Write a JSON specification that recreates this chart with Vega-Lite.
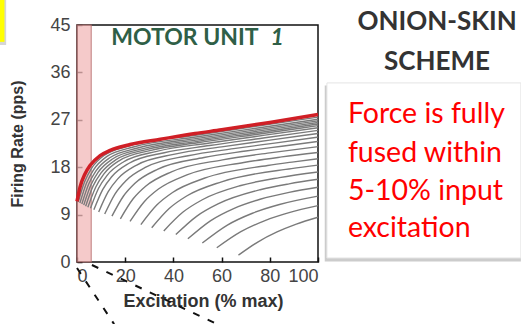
{
  "$schema": "https://vega.github.io/schema/vega-lite/v6.json",
  "width": 241,
  "height": 237,
  "autosize": "none",
  "padding": {"left": 77, "top": 25, "right": 203, "bottom": 62},
  "background": "white",
  "config": {"view": {"stroke": "#111", "strokeWidth": 1.5}, "font": "Liberation Sans"},
  "datasets": {
    "gray": [
      {"s":1,"x":0.5,"y":11.4},{"s":1,"x":3.2,"y":15.27},{"s":1,"x":5.9,"y":17.69},{"s":1,"x":11.2,"y":20.23},{"s":1,"x":21.9,"y":22.05},{"s":1,"x":50,"y":24.12},{"s":1,"x":75,"y":25.81},{"s":1,"x":100,"y":27.5},
      {"s":2,"x":1.2,"y":11.2},{"s":2,"x":4.0,"y":15.05},{"s":2,"x":6.8,"y":17.46},{"s":2,"x":12.3,"y":20.0},{"s":2,"x":23.4,"y":21.83},{"s":2,"x":50,"y":23.77},{"s":2,"x":75,"y":25.44},{"s":2,"x":100,"y":27.1},
      {"s":3,"x":2.0,"y":11.0},{"s":3,"x":4.9,"y":14.84},{"s":3,"x":7.8,"y":17.25},{"s":3,"x":13.6,"y":19.79},{"s":3,"x":25.2,"y":21.65},{"s":3,"x":50,"y":23.47},{"s":3,"x":75,"y":25.13},{"s":3,"x":100,"y":26.8},
      {"s":4,"x":2.8,"y":10.8},{"s":4,"x":5.8,"y":14.65},{"s":4,"x":8.8,"y":17.05},{"s":4,"x":14.9,"y":19.61},{"s":4,"x":27.0,"y":21.49},{"s":4,"x":50,"y":23.19},{"s":4,"x":75,"y":24.84},{"s":4,"x":100,"y":26.5},
      {"s":5,"x":3.6,"y":10.6},{"s":5,"x":6.7,"y":14.45},{"s":5,"x":9.9,"y":16.86},{"s":5,"x":16.2,"y":19.43},{"s":5,"x":28.7,"y":21.34},{"s":5,"x":50,"y":22.91},{"s":5,"x":75,"y":24.55},{"s":5,"x":100,"y":26.2},
      {"s":6,"x":4.5,"y":10.4},{"s":6,"x":7.8,"y":14.25},{"s":6,"x":11.1,"y":16.68},{"s":6,"x":17.6,"y":19.26},{"s":6,"x":30.7,"y":21.2},{"s":6,"x":50,"y":22.63},{"s":6,"x":75,"y":24.26},{"s":6,"x":100,"y":25.9},
      {"s":7,"x":5.6,"y":10.2},{"s":7,"x":9.0,"y":14.04},{"s":7,"x":12.5,"y":16.46},{"s":7,"x":19.4,"y":19.04},{"s":7,"x":33.1,"y":21.01},{"s":7,"x":55,"y":22.59},{"s":7,"x":78,"y":24.08},{"s":7,"x":100,"y":25.5},
      {"s":8,"x":7.0,"y":9.9},{"s":8,"x":10.65,"y":13.73},{"s":8,"x":14.3,"y":16.15},{"s":8,"x":21.6,"y":18.75},{"s":8,"x":36.2,"y":20.75},{"s":8,"x":55,"y":22.12},{"s":8,"x":78,"y":23.59},{"s":8,"x":100,"y":25.0},
      {"s":9,"x":9,"y":9.5},{"s":9,"x":12.95,"y":13.35},{"s":9,"x":16.9,"y":15.78},{"s":9,"x":24.8,"y":18.41},{"s":9,"x":40.6,"y":20.48},{"s":9,"x":60,"y":21.87},{"s":9,"x":80,"y":23.14},{"s":9,"x":100,"y":24.4},
      {"s":10,"x":11.5,"y":9.1},{"s":10,"x":15.8,"y":12.95},{"s":10,"x":20.2,"y":15.39},{"s":10,"x":28.8,"y":18.04},{"s":10,"x":46.1,"y":20.18},{"s":10,"x":65,"y":21.52},{"s":10,"x":82,"y":22.58},{"s":10,"x":100,"y":23.7},
      {"s":11,"x":14.5,"y":8.7},{"s":11,"x":19.3,"y":12.53},{"s":11,"x":24.05,"y":14.96},{"s":11,"x":33.6,"y":17.64},{"s":11,"x":52.7,"y":19.85},{"s":11,"x":70,"y":21.07},{"s":11,"x":85,"y":21.99},{"s":11,"x":100,"y":22.9},
      {"s":12,"x":18,"y":8.2},{"s":12,"x":23.3,"y":12.0},{"s":12,"x":28.6,"y":14.43},{"s":12,"x":39.2,"y":17.12},{"s":12,"x":60.4,"y":19.4},{"s":12,"x":80,"y":20.72},{"s":12,"x":100,"y":21.9},
      {"s":13,"x":22,"y":7.7},{"s":13,"x":27.9,"y":11.45},{"s":13,"x":33.8,"y":13.85},{"s":13,"x":45.6,"y":16.54},{"s":13,"x":69.2,"y":18.89},{"s":13,"x":85,"y":19.95},{"s":13,"x":100,"y":20.8},
      {"s":14,"x":26.5,"y":7.1},{"s":14,"x":33.1,"y":10.81},{"s":14,"x":39.65,"y":13.2},{"s":14,"x":52.8,"y":15.9},{"s":14,"x":79.1,"y":18.33},{"s":14,"x":90,"y":19.02},{"s":14,"x":100,"y":19.6},
      {"s":15,"x":31,"y":6.5},{"s":15,"x":38.25,"y":10.16},{"s":15,"x":45.5,"y":12.53},{"s":15,"x":60,"y":15.23},{"s":15,"x":89,"y":17.74},{"s":15,"x":100,"y":18.4},
      {"s":16,"x":36,"y":5.9},{"s":16,"x":44,"y":9.48},{"s":16,"x":52,"y":11.82},{"s":16,"x":68,"y":14.52},{"s":16,"x":84,"y":16.03},{"s":16,"x":100,"y":17.1},
      {"s":17,"x":41,"y":5.2},{"s":17,"x":49.75,"y":8.72},{"s":17,"x":58.5,"y":11.03},{"s":17,"x":76,"y":13.72},{"s":17,"x":88,"y":14.84},{"s":17,"x":100,"y":15.7},
      {"s":18,"x":46,"y":4.4},{"s":18,"x":55.5,"y":7.87},{"s":18,"x":65,"y":10.15},{"s":18,"x":76,"y":11.92},{"s":18,"x":88,"y":13.23},{"s":18,"x":100,"y":14.2},
      {"s":19,"x":52,"y":3.6},{"s":19,"x":62.4,"y":7.01},{"s":19,"x":72.8,"y":9.26},{"s":19,"x":84,"y":10.91},{"s":19,"x":100,"y":12.5},
      {"s":20,"x":58,"y":2.7},{"s":20,"x":68,"y":5.75},{"s":20,"x":78,"y":7.87},{"s":20,"x":88,"y":9.38},{"s":20,"x":100,"y":10.7},
      {"s":21,"x":67,"y":1.3},{"s":21,"x":75,"y":3.79},{"s":21,"x":83,"y":5.7},{"s":21,"x":91,"y":7.19},{"s":21,"x":100,"y":8.5}
    ],
    "red": [
      {"x":0,"y":11.5},{"x":1.25,"y":14.2},{"x":3.3,"y":16.7},{"x":5.4,"y":18.3},{"x":9.6,"y":20.2},{"x":13.75,"y":21.2},{"x":22,"y":22.3},{"x":34.6,"y":23.3},{"x":49,"y":24.4},{"x":60,"y":25.1},{"x":80,"y":26.5},{"x":100,"y":28.0}
    ],
    "band": [{"x":0,"x2":5.9,"y":0,"y2":45}],
    "boxShadow": [{"x":102.8,"x2":184.2,"y":33.5,"y2":0.1}],
    "box": [{"x":103.7,"x2":184.2,"y":34.0,"y2":0.76}],
    "yellowShadow": [{"x":-32,"x2":-29.4,"y":49.9,"y2":41.2}],
    "yellow": [{"x":-32,"x2":-30.1,"y":49.9,"y2":41.8}],
    "dash": [{"x":0,"y":-1.14,"x2":15.4,"y2":-11.8},{"x":6.2,"y":-0.57,"x2":58.1,"y2":-11.8}],
    "motor": [{"x":14.2,"y":42.6,"t":"MOTOR UNIT"}],
    "one": [{"x":80.3,"y":42.6,"t":"1"}],
    "onion": [{"x":149.4,"y":45.6,"t":"ONION-SKIN"},{"x":149.4,"y":38.0,"t":"SCHEME"}],
    "note": [{"x":112.4,"y":26.4,"t":"Force is fully"},{"x":112.4,"y":19.0,"t":"fused within"},{"x":112.4,"y":11.8,"t":"5-10% input"},{"x":112.4,"y":4.75,"t":"excitation"}]
  },
  "encoding": {
    "x": {"field": "x", "type": "quantitative",
      "scale": {"domain": [0, 100], "nice": false, "zero": false},
      "axis": {"title": "Excitation (% max)", "values": [0,20,40,60,80,100], "grid": false, "domain": false,
        "tickSize": -5, "tickColor": "#111", "tickWidth": 1.5, "labelPadding": 10, "labelFontSize": 18, "labelColor": "#444",
        "labelFont": "Liberation Sans", "titleFont": "Liberation Sans", "titleFontSize": 18, "titleFontWeight": "bold", "titleColor": "#333", "titlePadding": 7, "titleX": 126}},
    "y": {"field": "y", "type": "quantitative",
      "scale": {"domain": [0, 45], "nice": false, "zero": false},
      "axis": {"title": "Firing Rate (pps)", "values": [0,9,18,27,36,45], "grid": false, "domain": false,
        "tickSize": -5, "tickColor": "#111", "tickWidth": 1.5, "labelPadding": 12, "labelFontSize": 18, "labelColor": "#444",
        "labelFont": "Liberation Sans", "titleFont": "Liberation Sans", "titleFontSize": 16, "titleFontWeight": "bold", "titleColor": "#333", "titlePadding": 24}}
  },
  "layer": [
    {"data": {"name": "boxShadow"}, "mark": {"type": "rect", "fill": "#b0b0b0", "opacity": 0.65},
      "encoding": {"x2": {"field": "x2"}, "y2": {"field": "y2"}}},
    {"data": {"name": "box"}, "mark": {"type": "rect", "fill": "white", "stroke": "#e4e4e4", "strokeWidth": 1},
      "encoding": {"x2": {"field": "x2"}, "y2": {"field": "y2"}}},
    {"data": {"name": "yellowShadow"}, "mark": {"type": "rect", "fill": "#bbbbbb", "opacity": 0.6},
      "encoding": {"x2": {"field": "x2"}, "y2": {"field": "y2"}}},
    {"data": {"name": "yellow"}, "mark": {"type": "rect", "fill": "#ffff00"},
      "encoding": {"x2": {"field": "x2"}, "y2": {"field": "y2"}}},
    {"data": {"name": "band"}, "mark": {"type": "rect", "fill": "#f2b9b9", "opacity": 0.75, "stroke": "#b86a6a", "strokeWidth": 1.2},
      "encoding": {"x2": {"field": "x2"}, "y2": {"field": "y2"}}},
    {"data": {"name": "gray"}, "mark": {"type": "line", "color": "#7a7a7a", "strokeWidth": 1.4, "interpolate": "monotone"},
      "encoding": {"detail": {"field": "s", "type": "nominal"}}},
    {"data": {"name": "red"}, "mark": {"type": "line", "color": "#d01f26", "strokeWidth": 3.5, "interpolate": "monotone"},
      "encoding": {}},
    {"data": {"name": "motor"}, "mark": {"type": "text", "font": "Lato", "fontWeight": "bold", "fontSize": 23, "color": "#2f5f47", "align": "left", "baseline": "middle"},
      "encoding": {"text": {"field": "t"}}},
    {"data": {"name": "one"}, "mark": {"type": "text", "font": "Lato", "fontWeight": "bold", "fontStyle": "italic", "fontSize": 23, "color": "#2f5f47", "align": "left", "baseline": "middle"},
      "encoding": {"text": {"field": "t"}}},
    {"data": {"name": "onion"}, "mark": {"type": "text", "font": "Lato", "fontWeight": "bold", "fontSize": 26, "color": "#333333", "align": "center", "baseline": "middle"},
      "encoding": {"text": {"field": "t"}}},
    {"data": {"name": "note"}, "mark": {"type": "text", "font": "Lato", "fontSize": 28.5, "color": "#ff0000", "align": "left", "baseline": "alphabetic"},
      "encoding": {"text": {"field": "t"}}},
    {"data": {"name": "dash"}, "mark": {"type": "rule", "color": "#111", "strokeWidth": 2, "strokeDash": [7, 9]},
      "encoding": {"x2": {"field": "x2"}, "y2": {"field": "y2"}}}
  ]
}
